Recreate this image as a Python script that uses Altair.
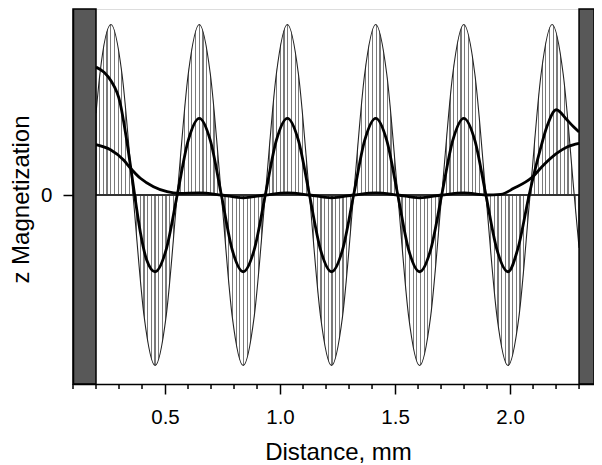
import altair as alt
import pandas as pd

# ---- data ----
thin_x = [0.200, 0.217, 0.265, 0.313, 0.361, 0.409, 0.457, 0.505, 0.553, 0.601,
          0.649, 0.697, 0.745, 0.792, 0.840, 0.888, 0.936, 0.984, 1.032, 1.080,
          1.128, 1.176, 1.224, 1.272, 1.320, 1.368, 1.416, 1.464, 1.512, 1.559,
          1.607, 1.655, 1.703, 1.751, 1.799, 1.847, 1.895, 1.943, 1.991, 2.039,
          2.087, 2.135, 2.183, 2.231, 2.279, 2.300]
thin_v = [0.48, 0.71, 1.00, 0.71, 0.00, -0.71, -1.00, -0.71, 0.00, 0.71,
          1.00, 0.71, 0.00, -0.71, -1.00, -0.71, 0.00, 0.71, 1.00, 0.71,
          0.00, -0.71, -1.00, -0.71, 0.00, 0.71, 1.00, 0.71, 0.00, -0.71,
          -1.00, -0.71, 0.00, 0.71, 1.00, 0.71, 0.00, -0.71, -1.00, -0.71,
          0.00, 0.71, 1.00, 0.71, 0.00, -0.31]

mid_x = [0.200, 0.235, 0.265, 0.305, 0.330, 0.350, 0.368, 0.393, 0.420, 0.457,
         0.505, 0.553, 0.601, 0.649, 0.697, 0.745, 0.792, 0.840, 0.888, 0.936,
         0.984, 1.032, 1.080, 1.128, 1.176, 1.224, 1.272, 1.320, 1.368, 1.416,
         1.464, 1.512, 1.559, 1.607, 1.655, 1.703, 1.751, 1.799, 1.847, 1.895,
         1.943, 1.991, 2.035, 2.083, 2.132, 2.160, 2.201, 2.248, 2.276, 2.300]
mid_v = [0.75, 0.72, 0.67, 0.54, 0.35, 0.17, 0.00, -0.22, -0.38, -0.45,
         -0.32, 0.00, 0.32, 0.45, 0.32, 0.00, -0.32, -0.45, -0.32, 0.00,
         0.32, 0.45, 0.32, 0.00, -0.32, -0.45, -0.32, 0.00, 0.32, 0.45,
         0.32, 0.00, -0.32, -0.45, -0.32, 0.00, 0.32, 0.45, 0.32, 0.00,
         -0.32, -0.45, -0.31, 0.00, 0.27, 0.40, 0.50, 0.44, 0.40, 0.37]

flat_x = [0.200, 0.263, 0.320, 0.350, 0.393, 0.450, 0.509, 0.560, 0.649, 0.745,
          0.840, 0.936, 1.032, 1.128, 1.224, 1.320, 1.416, 1.512, 1.607, 1.703,
          1.799, 1.895, 1.960, 2.016, 2.096, 2.146, 2.204, 2.250, 2.300]
flat_v = [0.295, 0.265, 0.205, 0.157, 0.098, 0.049, 0.020, 0.010, 0.012, 0.000,
          -0.016, 0.000, 0.012, 0.000, -0.016, 0.000, 0.012, 0.000, -0.016, 0.000,
          0.012, 0.000, 0.004, 0.039, 0.104, 0.176, 0.245, 0.283, 0.303]

wall_x0 = [0.1, 2.3]
wall_x1 = [0.2, 2.365]
major_ticks = [0.5, 1.0, 1.5, 2.0]
minor_ticks = [0.1, 0.2, 0.3, 0.4, 0.6, 0.7, 0.8, 0.9, 1.1, 1.2, 1.3, 1.4,
               1.6, 1.7, 1.8, 1.9, 2.1, 2.2, 2.3]
y_ticks = [0]

# ---- layout ----
W, H = 521, 375
XDOM = [0.1, 2.365]
YDOM = [-1.1085, 1.091]
FONT = "Liberation Sans"

thin = pd.DataFrame({"x": thin_x, "v": thin_v})
mid = pd.DataFrame({"x": mid_x, "v": mid_v})
flat = pd.DataFrame({"x": flat_x, "v": flat_v})
walls = pd.DataFrame({"x": wall_x0, "x1": wall_x1})
minor = pd.DataFrame({"x": minor_ticks})

xscale = alt.Scale(domain=XDOM, nice=False, zero=False)
yscale = alt.Scale(domain=YDOM, nice=False, zero=False)

xaxis = alt.Axis(values=major_ticks, format=".1f", tickSize=10, tickWidth=1.5,
                 tickColor="black", domainColor="black", domainWidth=1.5,
                 labelPadding=13, labelFontSize=20.5, labelFont=FONT, labelColor="black",
                 title="Distance, mm", titleFontSize=24, titleFont=FONT,
                 titleFontWeight="normal", titleColor="black", titleY=75,
                 titleX=265, titleAlign="center",
                 titleBaseline="alphabetic", grid=False, zindex=1)
yaxis = alt.Axis(values=y_ticks, tickSize=10, tickWidth=1.5, tickColor="black",
                 domainColor="black", domainWidth=1.5, labelPadding=11,
                 labelFontSize=20.5, labelFont=FONT, labelColor="black",
                 title="z Magnetization", titleFontSize=24, titleFont=FONT,
                 titleFontWeight="normal", titleColor="black", titleAngle=270,
                 titleX=-45, titleY=190, titleAlign="center",
                 titleBaseline="alphabetic", grid=False, zindex=1)

X = alt.X("x:Q", scale=xscale, axis=xaxis)
Y = alt.Y("v:Q", scale=yscale, axis=yaxis)

# vertical hatching drawn as a striped gradient inside the area between curve and zero
n_stripes = 131
sw = 1.2 / 483.0
stops = []
for i in range(n_stripes + 1):
    c = i / n_stripes
    a = max(0.0, c - sw / 2)
    b = min(1.0, c + sw / 2)
    stops += [alt.GradientStop(color="white", offset=a),
              alt.GradientStop(color="#7a7a7a", offset=a),
              alt.GradientStop(color="#7a7a7a", offset=b),
              alt.GradientStop(color="white", offset=b)]
hatch = alt.LinearGradient(gradient="linear", stops=stops, x1=0, x2=1, y1=0, y2=0)

hatch_area = alt.Chart(thin).mark_area(interpolate="monotone", color=hatch).encode(
    x=X, y=Y, y2=alt.datum(0))

zero_line = alt.Chart(thin).mark_rule(color="#333333", strokeWidth=1.1).encode(
    x=alt.datum(0.2, scale=xscale, axis=xaxis), x2=alt.datum(2.3),
    y=alt.datum(0, scale=yscale, axis=yaxis))

thin_line = alt.Chart(thin).mark_line(interpolate="monotone", color="#222222",
                                      strokeWidth=1.1).encode(x=X, y=Y)
flat_line = alt.Chart(flat).mark_line(interpolate="monotone", color="black",
                                      strokeWidth=2.8).encode(x=X, y=Y)
mid_line = alt.Chart(mid).mark_line(interpolate="monotone", color="black",
                                    strokeWidth=2.8).encode(x=X, y=Y)

wall_rects = alt.Chart(walls).mark_rect(color="#585858", stroke="black",
                                        strokeWidth=1.5).encode(
    x=X, x2="x1:Q", y=alt.value(0), y2=alt.value(H))

minor_rules = alt.Chart(minor).mark_rule(color="black", strokeWidth=1.5).encode(
    x=X, y=alt.value(H), y2=alt.value(H + 5))

chart = alt.layer(hatch_area, zero_line, thin_line, flat_line, mid_line,
                  wall_rects, minor_rules).properties(
    width=W, height=H,
    autosize=alt.AutoSizeParams(type="none"),
    padding={"left": 65, "top": 1, "right": 0, "bottom": 81},
).configure_view(stroke="black", strokeWidth=1.5).configure(background="white")

chart.save("out.html", embed_options={"renderer": "svg", "actions": False})
